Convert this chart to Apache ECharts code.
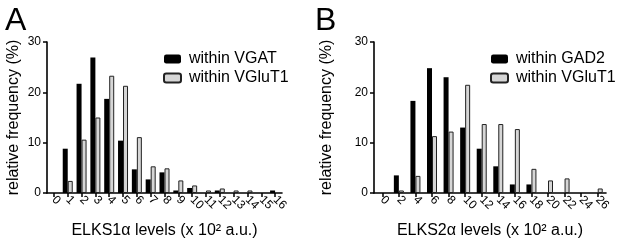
<!DOCTYPE html>
<html><head><meta charset="utf-8">
<script src="https://cdn.jsdelivr.net/npm/echarts@6/dist/echarts.min.js"></script>
<style>html,body{margin:0;padding:0;background:#fff}#c{width:617px;height:244px}</style>
</head><body><div id="c"></div>
<script>
const catsA = ['0','1','2','3','4','5','6','7','8','9','10','11','12','13','14','15','16'];
const vgatA = [0, 8.8, 21.7, 26.9, 18.7, 10.4, 4.7, 2.7, 4.1, 0.5, 1.0, 0, 0.5, 0, 0, 0, 0.5];
const vglutA = [0, 2.4, 10.6, 15.0, 23.3, 21.3, 11.1, 5.3, 4.9, 2.5, 1.5, 0.5, 0.9, 0.5, 0.5, 0, 0];
const catsB = ['0','2','4','6','8','10','12','14','16','18','20','22','24','26'];
const gad2B = [0, 3.5, 18.3, 24.8, 23.0, 13.0, 8.8, 5.3, 1.7, 1.7, 0, 0, 0, 0];
const vglutB = [0, 0.5, 3.4, 11.3, 12.2, 21.5, 13.7, 13.7, 12.7, 4.8, 2.5, 2.9, 0, 0.9];
const yTicks = [0, 10, 20, 30];

const font = 'Liberation Sans, Arial, sans-serif';
const axisLine = {show: true, lineStyle: {color: '#000', width: 1.6}};
const axisTick = {show: true, length: 4, lineStyle: {color: '#000', width: 1.5}};
function nz(a){return a.map(v => v === 0 ? null : v);}
function xAx(i, cats, name){
  return {type:'category', gridIndex:i, data:cats, boundaryGap:true,
    axisLine, axisTick:Object.assign({alignWithLabel:true}, axisTick),
    axisLabel:{rotate:-45, color:'#000', fontSize:12, fontFamily:font, margin:5, interval:0},
    name, nameLocation:'middle', nameGap:30,
    nameTextStyle:{color:'#000', fontSize:16, fontFamily:font}};
}
function yAx(i, gap){
  return {type:'value', gridIndex:i, min:yTicks[0], max:yTicks[yTicks.length-1], interval:10,
    axisLine, axisTick, splitLine:{show:false},
    axisLabel:{color:'#000', fontSize:12, fontFamily:font, margin:6},
    name:'relative frequency (%)', nameLocation:'middle', nameGap:gap,
    nameTextStyle:{color:'#000', fontSize:16, fontFamily:font}};
}
const black = {color:'#000'};
const gray = {color:'#d6d6d6', borderColor:'#222', borderWidth:1};
function bar(name, data, xi, style){
  return {type:'bar', name, data:nz(data), xAxisIndex:xi, yAxisIndex:xi, barWidth:5, barGap:'0%',
    itemStyle:style, animation:false};
}
const legendText = {fontSize:16, fontFamily:font, color:'#000', padding:[0,0,0,3]};
const chart = echarts.init(document.getElementById('c'), null, {renderer:'canvas'});
chart.setOption({
  animation:false,
  title:[
    {text:'A', left:0, top:0, textStyle:{fontSize:32, fontWeight:'normal', fontFamily:font, color:'#000'}},
    {text:'B', left:310, top:0, textStyle:{fontSize:32, fontWeight:'normal', fontFamily:font, color:'#000'}}
  ],
  legend:[
    {data:['within VGAT','within VGluT1'], orient:'vertical', left:163, top:51, padding:0, itemWidth:17, itemHeight:9, itemGap:3,
     textStyle:legendText},
    {data:['within GAD2','within VGluT1'], orient:'vertical', left:490, top:51, padding:0, itemWidth:17, itemHeight:9, itemGap:3,
     textStyle:legendText}
  ],
  grid:[
    {left:47, top:42, width:235, height:154},
    {left:374, top:42, width:232, height:154}
  ],
  xAxis:[xAx(0, catsA, 'ELKS1α levels (x 10² a.u.)'), xAx(1, catsB, 'ELKS2α levels (x 10² a.u.)')],
  yAxis:[yAx(0, 25), yAx(1, 39)],
  series:[
    bar('within VGAT', vgatA, 0, black),
    bar('within VGluT1', vglutA, 0, gray),
    bar('within GAD2', gad2B, 1, black),
    bar('within VGluT1', vglutB, 1, gray)
  ]
});
</script></body></html>
